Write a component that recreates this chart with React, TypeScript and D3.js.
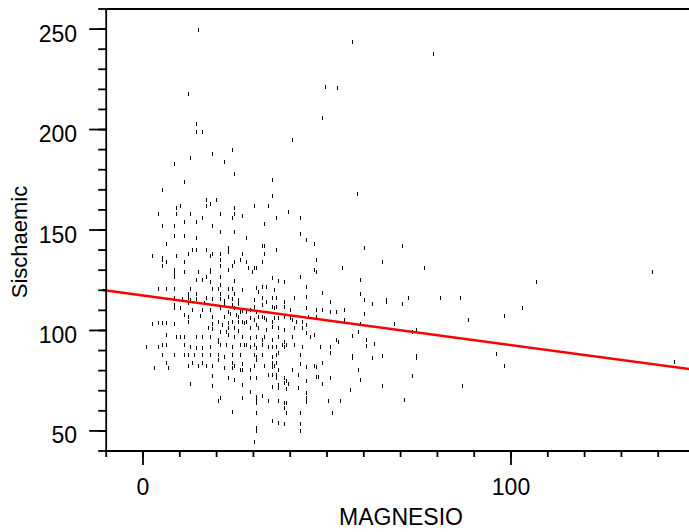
import React from "react";
import * as d3 from "d3";

const points: [number, number][] = [
  [14.9, 249.6], [12.1, 217.6], [56.8, 243.6], [78.8, 237.6], [49.5, 221.2], [52.7, 220.7], [58.2, 167.9],
  [48.6, 205.6], [14.3, 202.6], [14.3, 198.6], [16.0, 198.6], [40.4, 194.7], [24.1, 189.7], [18.7, 187.7],
  [12.7, 185.7], [21.9, 183.7], [8.3, 182.7], [24.6, 177.7], [11.1, 173.8], [35.0, 174.8], [5.1, 169.8],
  [35.0, 166.8], [17.0, 164.8], [19.8, 164.8], [18.1, 162.8], [17.0, 161.8], [10.0, 161.8], [8.9, 160.8],
  [24.6, 160.8], [30.1, 161.8], [33.9, 161.8], [39.3, 158.8], [4.0, 157.8], [8.9, 157.8], [12.7, 157.8],
  [20.8, 157.8], [24.6, 157.8], [26.8, 156.8], [16.0, 155.8], [24.1, 155.8], [36.1, 155.8], [42.6, 155.8],
  [11.1, 153.8], [14.3, 153.8], [32.8, 152.9], [5.1, 151.9], [8.3, 151.9], [18.7, 151.9], [20.8, 148.9],
  [24.6, 148.9], [42.6, 147.9], [8.3, 146.9], [11.1, 146.9], [14.3, 145.9], [27.9, 145.9], [44.2, 144.9],
  [6.2, 142.9], [46.4, 142.9], [23.0, 140.9], [23.0, 138.9], [32.3, 141.9], [32.8, 141.9], [13.2, 139.9],
  [14.3, 139.9], [17.0, 139.9], [36.1, 139.9], [2.4, 136.9], [8.9, 136.9], [12.1, 137.9], [18.7, 137.9],
  [18.1, 136.9], [20.8, 137.9], [26.8, 137.9], [32.8, 137.9], [5.1, 135.9], [5.1, 134.9], [20.8, 134.9],
  [46.9, 134.9], [6.2, 133.9], [11.1, 133.9], [24.6, 133.9], [27.9, 133.9], [32.3, 133.9], [5.1, 131.9],
  [20.8, 131.9], [24.1, 131.9], [26.3, 134.9], [28.5, 130.9], [30.1, 130.9], [30.6, 130.9], [46.4, 130.0],
  [8.3, 130.0], [8.3, 128.0], [11.1, 129.0], [18.1, 130.0], [18.1, 129.0], [23.0, 130.0], [46.9, 129.0],
  [14.9, 129.0], [29.5, 129.0], [54.0, 130.9],
  [8.3, 126.8], [17.0, 126.8], [20.8, 126.8], [14.3, 125.1], [16.0, 125.1], [18.1, 124.3], [24.6, 124.6],
  [20.8, 122.6], [4.0, 120.6], [6.2, 120.6], [8.3, 120.6], [12.7, 120.6], [18.7, 120.6], [20.3, 120.6],
  [23.0, 120.6], [24.1, 120.6], [12.1, 118.2], [14.3, 118.2], [20.8, 118.2], [24.6, 118.2], [8.3, 116.3],
  [10.5, 115.7], [12.1, 116.0], [12.7, 115.2], [14.3, 115.7], [17.0, 116.0], [18.7, 115.7], [20.8, 115.5],
  [21.9, 114.7], [23.0, 116.8], [24.1, 115.5], [25.7, 115.2], [8.3, 112.7], [12.1, 113.5], [16.5, 113.5],
  [21.9, 113.0], [24.1, 112.7], [25.7, 113.0], [8.3, 111.0], [10.0, 111.0], [13.2, 110.2], [16.0, 110.2],
  [18.1, 110.2], [20.8, 111.0], [23.0, 109.3], [24.6, 111.0], [26.3, 109.3], [11.1, 107.7], [12.1, 106.9],
  [15.4, 107.4], [18.7, 106.9], [21.9, 106.9], [23.6, 108.0], [25.2, 107.7], [25.7, 106.9], [2.4, 103.1],
  [4.0, 103.9], [5.1, 103.9], [6.2, 103.9], [8.3, 103.1], [12.1, 104.4], [18.7, 103.1], [20.3, 104.4],
  [21.4, 102.7], [23.0, 103.6], [24.1, 104.4], [25.7, 104.4], [17.6, 101.4], [18.7, 100.7], [20.8, 99.4],
  [22.5, 99.4], [23.0, 101.4], [24.6, 101.4], [25.7, 99.7], [6.2, 97.7], [8.9, 96.9], [10.0, 96.9],
  [11.1, 96.9], [14.3, 96.9], [16.0, 96.9], [18.1, 96.9], [20.3, 95.3], [23.0, 97.7], [24.6, 96.9],
  [0.7, 91.9], [4.0, 91.9], [5.1, 92.8], [6.2, 92.8], [11.1, 92.8], [12.7, 91.9], [14.3, 91.1], [16.0, 91.1],
  [18.1, 91.9], [20.3, 94.4], [20.8, 92.8], [22.5, 92.8], [24.1, 91.9], [26.3, 92.8], [5.1, 87.8], [8.3, 87.8],
  [11.1, 87.8], [12.1, 87.8], [13.8, 87.8], [16.0, 87.8], [18.1, 87.8], [20.3, 87.8], [21.9, 86.9],
  [24.1, 87.8], [26.3, 87.8],
  [35.0, 126.0], [36.6, 124.6], [38.2, 124.3], [42.6, 126.8], [44.2, 121.8], [26.8, 120.1], [30.6, 121.0],
  [31.2, 119.3], [32.3, 121.8], [33.3, 121.8], [35.5, 120.1], [48.6, 118.5], [30.1, 115.2], [32.3, 116.0],
  [33.3, 114.3], [35.0, 116.0], [36.1, 116.0], [38.2, 114.3], [41.0, 116.0], [44.2, 116.8], [50.7, 114.3],
  [26.8, 109.7], [27.9, 109.3], [29.0, 110.2], [30.1, 111.8], [30.6, 109.3], [32.3, 112.7], [35.0, 111.8],
  [35.5, 111.0], [36.1, 111.8], [38.2, 111.8], [39.9, 110.2], [44.2, 111.0], [46.9, 110.2], [48.6, 110.2],
  [50.7, 109.3], [52.4, 109.3], [54.5, 110.0], [54.5, 105.1], [26.8, 104.4], [27.4, 103.6], [27.9, 104.4],
  [29.0, 106.1], [30.1, 105.2], [31.2, 106.9], [32.3, 106.9], [32.8, 106.1], [33.3, 105.2], [35.0, 104.4],
  [35.5, 106.1], [36.6, 106.1], [38.2, 106.9], [39.9, 106.1], [40.4, 105.2], [41.5, 104.4], [43.1, 104.4],
  [44.8, 106.9], [46.9, 106.9], [29.0, 101.1], [30.6, 102.7], [31.2, 101.1], [33.3, 100.2], [35.0, 101.9],
  [36.6, 101.1], [38.2, 100.2], [41.0, 101.1], [43.1, 101.1], [44.2, 102.7], [26.8, 96.9], [29.0, 96.1],
  [30.6, 96.9], [32.3, 95.3], [32.8, 96.9], [35.0, 95.3], [36.6, 96.9], [38.2, 94.4], [40.4, 96.9],
  [44.2, 98.6], [45.3, 96.9], [46.4, 97.7], [52.4, 95.3], [52.9, 94.4], [27.4, 92.8], [27.9, 92.8],
  [29.0, 91.9], [30.1, 92.8], [30.6, 91.1], [32.3, 92.8], [33.9, 91.9], [35.0, 91.9], [36.1, 91.9],
  [37.7, 92.8], [38.2, 91.9], [38.8, 92.8], [41.0, 92.8], [43.1, 91.9], [48.0, 91.9], [50.7, 91.9],
  [30.1, 87.8], [30.6, 86.9], [32.3, 87.8], [35.0, 86.9], [36.1, 87.8], [36.6, 88.6], [42.6, 87.8],
  [50.7, 88.6],
  [2.9, 81.2], [6.2, 84.0], [6.7, 81.2], [12.1, 82.3], [13.2, 84.0], [14.9, 82.3], [16.0, 84.0], [17.0, 82.3],
  [18.7, 82.3], [20.3, 85.3], [21.9, 81.2], [24.1, 84.0], [24.6, 82.3], [24.1, 81.2], [26.3, 80.3],
  [18.7, 77.3], [23.0, 76.2], [24.6, 75.3], [12.7, 73.4], [18.7, 72.4], [20.3, 65.0], [20.8, 66.2],
  [24.1, 59.3],
  [26.8, 83.3], [26.8, 80.3], [29.0, 80.3], [30.1, 82.3], [30.6, 85.3], [32.8, 82.3], [35.0, 83.7],
  [35.0, 82.0], [35.5, 82.3], [36.1, 83.7], [36.1, 77.8], [36.6, 80.3], [33.9, 77.8], [35.0, 77.8],
  [36.1, 76.2], [29.0, 76.2], [30.6, 76.2], [26.8, 72.9], [35.0, 72.0], [36.6, 72.9], [36.6, 71.2],
  [38.2, 76.2], [38.8, 75.0], [38.2, 73.7], [39.3, 73.4], [38.8, 70.7], [40.4, 80.3], [42.0, 77.8],
  [42.6, 83.3], [44.2, 81.7], [46.4, 82.3], [46.9, 81.7], [48.6, 84.0], [46.9, 77.0], [47.5, 77.0],
  [50.7, 76.2], [44.2, 75.0], [48.6, 73.4], [42.0, 71.2], [44.2, 69.0], [29.0, 69.2], [26.8, 66.2],
  [30.6, 67.0], [30.6, 65.4], [30.6, 63.7], [32.3, 67.4], [33.9, 65.0], [36.6, 65.0], [38.2, 64.0],
  [38.8, 64.0], [44.2, 66.2], [44.2, 64.5], [50.2, 65.0], [53.5, 65.0], [38.2, 61.3], [38.8, 59.1],
  [30.6, 59.1], [42.6, 59.1], [51.3, 59.1], [35.0, 55.1], [36.6, 54.1], [38.2, 53.3], [42.6, 53.3],
  [42.6, 50.1], [30.6, 51.3], [30.6, 50.1], [30.1, 44.3],
  [60.0, 140.9], [70.3, 141.9], [64.9, 133.9], [76.3, 130.9], [138.2, 129.0], [106.7, 124.0], [58.9, 125.0],
  [58.9, 118.0], [60.0, 115.0], [66.0, 115.0], [66.0, 114.0], [71.9, 116.0], [80.6, 116.0], [86.1, 116.0],
  [62.1, 113.0], [70.3, 113.0], [102.9, 111.0], [60.0, 108.0], [88.2, 105.1], [98.0, 107.1], [58.9, 103.1],
  [68.1, 103.1], [73.0, 99.1], [74.1, 100.1], [58.3, 99.1], [56.7, 97.1], [60.5, 95.1], [60.5, 92.1],
  [62.7, 93.1], [95.8, 88.1], [56.7, 87.1], [56.7, 86.1], [62.1, 86.1], [64.9, 87.1], [74.1, 87.1],
  [74.1, 86.1], [98.0, 82.2], [144.2, 84.2], [58.3, 80.2], [58.9, 75.2], [73.0, 77.2], [64.9, 72.2],
  [86.6, 72.2], [56.2, 70.2], [70.8, 65.2],
];

// least squares fit: intercept, slope
const fit = [117.4, -0.2467];
const fitRange = [-11, 150];

const xMajor = [0, 100];
const yMajor = [50, 100, 150, 200, 250];

const W = 689;
const H = 532;
const font = "'Liberation Sans', Arial, sans-serif";

export default function App() {
  const x = d3.scaleLinear().domain([-10, 150]).range([106.2, 695]);
  const y = d3.scaleLinear().domain([40, 260]).range([451, 9]);

  const xMinor = d3.range(-10, 151, 10);
  const yMinor = d3.range(40, 261, 10);

  const line = d3
    .line<number>()
    .x((d) => x(d))
    .y((d) => y(fit[0] + fit[1] * d));

  const x0 = x(-10);
  const yBase = y(40);
  const yTop = y(260);

  return (
    <svg width={W} height={H} style={{ position: "absolute", left: 0, top: 0 }}>
      <rect width={W} height={H} fill="#fff" />

      {/* points drawn as short vertical dashes */}
      <g fill="#000">
        {points.map((p, i) => (
          <rect key={i} x={Math.round(x(p[0]))} y={Math.round(y(p[1])) - 2} width={1} height={4} />
        ))}
      </g>

      <path d={line(fitRange) || ""} fill="none" stroke="#ff0000" strokeWidth={2.5} />

      <g stroke="#000" strokeWidth={1.8} fill="none">
        <line x1={x0} x2={x0} y1={yTop} y2={yBase} />
        <line x1={x0} x2={W + 10} y1={yBase} y2={yBase} />
        <line x1={x0} x2={W + 10} y1={yTop} y2={yTop} />
        {yMinor.map((v) => (
          <line key={"ym" + v} x1={x0 - 8} x2={x0} y1={y(v)} y2={y(v)} />
        ))}
        {yMajor.map((v) => (
          <line key={"yM" + v} x1={x0 - 17} x2={x0} y1={y(v)} y2={y(v)} />
        ))}
        {xMinor.map((v) => (
          <line key={"xm" + v} x1={x(v)} x2={x(v)} y1={yBase} y2={yBase + 6} />
        ))}
        {xMajor.map((v) => (
          <line key={"xM" + v} x1={x(v)} x2={x(v)} y1={yBase} y2={yBase + 14} />
        ))}
      </g>

      <g fontFamily={font} fontSize={23} fill="#000">
        {yMajor.map((v) => (
          <text key={"yl" + v} x={77} y={y(v) + 12.5} textAnchor="end">
            {v}
          </text>
        ))}
        {xMajor.map((v) => (
          <text key={"xl" + v} x={x(v)} y={495} textAnchor="middle">
            {v}
          </text>
        ))}
      </g>

      <text x={401} y={525} textAnchor="middle" fontFamily={font} fontSize={23}>
        MAGNESIO
      </text>
      <text
        transform="translate(27,242) rotate(-90)"
        textAnchor="middle"
        fontFamily={font}
        fontSize={22}
      >
        Sischaemic
      </text>
    </svg>
  );
}
